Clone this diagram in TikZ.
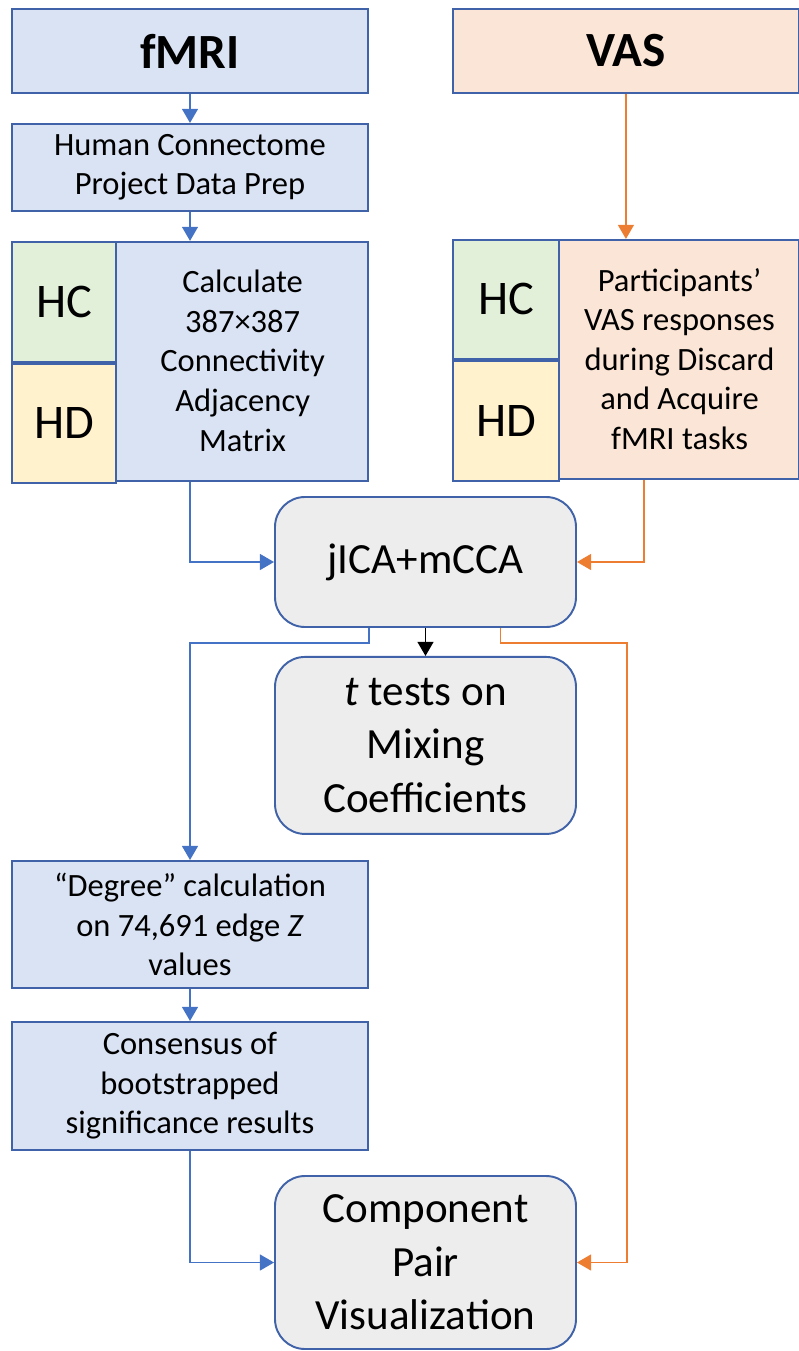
\documentclass[tikz,border=0pt]{standalone}
\usepackage{fontspec}
\setmainfont{Carlito}
\usepackage{xcolor}
\usepackage{tikz}
\usetikzlibrary{positioning,arrows.meta}

\definecolor{boxblue}{HTML}{DAE3F3}
\definecolor{boxpeach}{HTML}{FBE5D6}
\definecolor{boxgreen}{HTML}{E2F0D9}
\definecolor{boxyellow}{HTML}{FFF2CC}
\definecolor{boxgray}{HTML}{EDEDED}
\definecolor{edgeblue}{HTML}{3F62A8}
\definecolor{lineblue}{HTML}{4472C4}
\definecolor{lineorange}{HTML}{ED7D31}

\begin{document}
\begin{tikzpicture}[node distance=0.58cm,
  box/.style={rectangle, draw=edgeblue, line width=1.1pt, inner sep=0pt, align=center},
  title/.style={box, font=\fontsize{28}{32}\selectfont\bfseries},
  proc/.style={box, fill=boxblue, font=\fontsize{18.5}{22.5}\selectfont},
  grp/.style={box, font=\fontsize{27.5}{32}\selectfont},
  txt/.style={rectangle, inner sep=0pt, align=center, font=\fontsize{18.5}{22.5}\selectfont},
  stage/.style={box, fill=boxgray, rounded corners=0.6cm, font=\fontsize{24.5}{30.5}\selectfont},
  tip/.style={-{Triangle[length=8pt,width=9pt]}},
  bline/.style={tip, draw=lineblue, line width=1pt},
  oline/.style={tip, draw=lineorange, line width=1pt}]
\useasboundingbox (0,0) rectangle (15.96,-27.02);

\node[title, fill=boxblue, minimum width=7.12cm, minimum height=1.68cm] (fmri) at (3.8,-1.02) {fMRI};
\node[title, fill=boxpeach, minimum width=6.92cm, minimum height=1.68cm, right=1.66cm of fmri] (vas) {VAS};
\node[proc, minimum width=7.12cm, minimum height=1.74cm, below=0.58cm of fmri] (hcp) {Human Connectome\\Project Data Prep};

\node[box, fill=boxblue, minimum width=7.12cm, minimum height=4.78cm, below=0.58cm of hcp] (fmat) {};
\node[grp, fill=boxgreen, minimum width=2.08cm, minimum height=2.4cm, anchor=north west] (fhc) at (fmat.north west) {HC};
\node[grp, fill=boxyellow, minimum width=2.08cm, minimum height=2.38cm, anchor=north west] (fhd) at (fhc.south west) {HD};
\node[txt, minimum width=5.04cm, minimum height=4.78cm, anchor=north east] (fcalc) at (fmat.north east) {Calculate\\387×387\\Connectivity\\Adjacency\\Matrix};

\node[box, fill=boxpeach, minimum width=6.92cm, minimum height=4.78cm, below=2.9cm of vas] (vmat) {};
\node[grp, fill=boxgreen, minimum width=2.12cm, minimum height=2.38cm, anchor=north west] (vhc) at (vmat.north west) {HC};
\node[grp, fill=boxyellow, minimum width=2.12cm, minimum height=2.4cm, anchor=north west] (vhd) at (vhc.south west) {HD};
\node[txt, minimum width=4.8cm, minimum height=4.78cm, anchor=north east] (vresp) at (vmat.north east) {Participants’\\VAS responses\\during Discard\\and Acquire\\fMRI tasks};

\node[stage, minimum width=6.02cm, minimum height=2.6cm] (jica) at (8.51,-11.24) {jICA+mCCA};
\node[stage, minimum width=6.02cm, minimum height=3.54cm, below=0.56cm of jica] (ttest) {\textit{t} tests on\\Mixing\\Coefficients};

\node[proc, minimum width=7.12cm, minimum height=2.54cm] (degree) at (3.8,-18.49) {“Degree” calculation\\on 74,691 edge \textit{Z}\\values};
\node[proc, minimum width=7.12cm, minimum height=2.56cm, below=0.64cm of degree] (cons) {Consensus of\\bootstrapped\\significance results};

\node[stage, minimum width=6.02cm, minimum height=3.46cm] (comp) at (8.51,-25.25) {Component\\Pair\\Visualization};

\draw[bline] (fmri) -- (hcp);
\draw[bline] (hcp) -- (fmat);
\draw[oline] (vas) -- (vmat);
\draw[bline] (fmat.south) |- (jica.west);
\draw[oline] ([xshift=0.36cm]vmat.south) |- (jica.east);
\draw[tip, line width=1pt] (jica) -- (ttest);
\draw[bline] (jica.south -| fmat.east) -- ++(0,-0.3) -| (degree);
\draw[oline] ([xshift=1.5cm]jica.south) -- ++(0,-0.3) -| ([xshift=1cm]comp.east) -- (comp.east);
\draw[bline] (degree) -- (cons);
\draw[bline] (cons) |- (comp.west);
\end{tikzpicture}
\end{document}
